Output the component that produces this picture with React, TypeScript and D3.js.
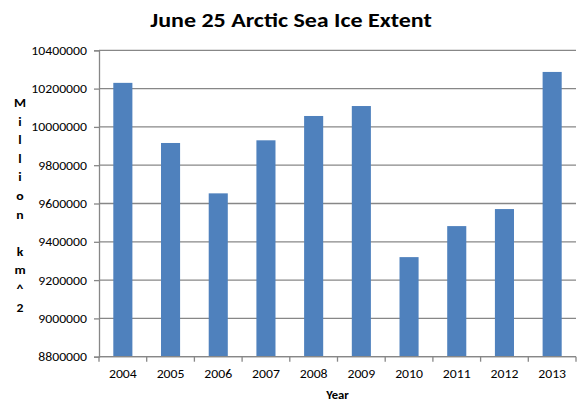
import React, { useEffect, useRef } from 'react';
import * as d3 from 'd3';

// Chart data
const years: string[] = ['2004', '2005', '2006', '2007', '2008', '2009', '2010', '2011', '2012', '2013'];
const extent: number[] = [10230000, 9916000, 9653000, 9930000, 10057000, 10109000, 9320000, 9482000, 9571000, 10287000];
const yTicks: number[] = [8800000, 9000000, 9200000, 9400000, 9600000, 9800000, 10000000, 10200000, 10400000];
const titleText = 'June 25 Arctic Sea Ice Extent';
const yTitle = 'Million km^2';
const xTitle = 'Year';

const App = () => {
  const svgRef = useRef<SVGSVGElement | null>(null);

  useEffect(() => {
    if (!svgRef.current) return;

    d3.select(svgRef.current).selectAll('*').remove();

    const width = 585;
    const height = 413;
    const margin = { top: 50.3, right: 9, bottom: 56.3, left: 99 };
    const font = "Carlito, Calibri, 'Liberation Sans', Arial, sans-serif";
    const gridColor = '#878787';
    // the reference text is a little wider than Carlito, so stretch it
    const stretch = 1.1;

    const svg = d3.select(svgRef.current)
      .attr('width', width)
      .attr('height', height);

    svg.append('rect')
      .attr('width', width)
      .attr('height', height)
      .attr('fill', '#ffffff');

    const xScale = d3.scaleBand<string>()
      .domain(years)
      .range([margin.left, width - margin.right])
      .paddingInner(0.6)
      .paddingOuter(0.3);

    const yScale = d3.scaleLinear()
      .domain([8800000, 10400000])
      .range([height - margin.bottom, margin.top]);

    const x0 = margin.left;
    const x1 = width - margin.right;
    const yBottom = height - margin.bottom;

    // Gridlines
    svg.append('g')
      .selectAll('line')
      .data(yTicks)
      .enter()
      .append('line')
      .attr('x1', x0)
      .attr('x2', x1)
      .attr('y1', d => yScale(d))
      .attr('y2', d => yScale(d))
      .attr('stroke', gridColor)
      .attr('stroke-width', 1.3);

    // Y axis
    const yAxis = d3.axisLeft(yScale)
      .tickValues(yTicks)
      .tickFormat(d => String(d))
      .tickSize(5)
      .tickPadding(7);

    const yAxisG = svg.append('g')
      .attr('transform', `translate(${x0}, 0)`)
      .call(yAxis as any);
    yAxisG.select('.domain').attr('stroke', gridColor).attr('stroke-width', 1.3);
    yAxisG.selectAll('.tick line').attr('stroke', gridColor).attr('stroke-width', 1.3);
    yAxisG.selectAll('.tick text')
      .attr('font-family', font)
      .attr('font-size', '12.5px')
      .attr('fill', '#000')
      .attr('transform', `translate(-12, 0) scale(${stretch}, 1)`)
      .attr('x', 0);

    // Bars
    svg.append('g')
      .selectAll('rect')
      .data(years)
      .enter()
      .append('rect')
      .attr('x', d => xScale(d) as number)
      .attr('width', xScale.bandwidth())
      .attr('y', (d, i) => yScale(extent[i]))
      .attr('height', (d, i) => yBottom - yScale(extent[i]))
      .attr('fill', '#4F81BD');

    // X axis line
    svg.append('line')
      .attr('x1', x0)
      .attr('x2', x1)
      .attr('y1', yBottom)
      .attr('y2', yBottom)
      .attr('stroke', gridColor)
      .attr('stroke-width', 1.3);

    // X ticks at category boundaries
    const boundaries = d3.range(years.length + 1).map(i => x0 + i * (x1 - x0) / years.length);
    svg.append('g')
      .selectAll('line')
      .data(boundaries)
      .enter()
      .append('line')
      .attr('x1', d => d)
      .attr('x2', d => d)
      .attr('y1', yBottom)
      .attr('y2', yBottom + 5)
      .attr('stroke', gridColor)
      .attr('stroke-width', 1.3);

    // X labels
    svg.append('g')
      .selectAll('text')
      .data(years)
      .enter()
      .append('text')
      .attr('transform', d => `translate(${(xScale(d) as number) + xScale.bandwidth() / 2}, ${yBottom + 21}) scale(${stretch}, 1)`)
      .attr('text-anchor', 'middle')
      .attr('font-family', font)
      .attr('font-size', '12.5px')
      .attr('fill', '#000')
      .text(d => d);

    // Title
    svg.append('text')
      .attr('transform', 'translate(291, 27) scale(1.2, 1)')
      .attr('text-anchor', 'middle')
      .attr('font-family', font)
      .attr('font-weight', 'bold')
      .attr('font-size', '20px')
      .attr('fill', '#000')
      .text(titleText);

    // X title
    svg.append('text')
      .attr('transform', `translate(${(x0 + x1) / 2}, 399) scale(${stretch}, 1)`)
      .attr('text-anchor', 'middle')
      .attr('font-family', font)
      .attr('font-weight', 'bold')
      .attr('font-size', '11.5px')
      .attr('fill', '#000')
      .text(xTitle);

    // Y title, stacked characters
    svg.append('g')
      .selectAll('text')
      .data(yTitle.split(''))
      .enter()
      .append('text')
      .attr('transform', (d, i) => `translate(20, ${107 + i * 18.6}) scale(${stretch}, 1)`)
      .attr('text-anchor', 'middle')
      .attr('font-family', font)
      .attr('font-weight', 'bold')
      .attr('font-size', '12.5px')
      .attr('fill', '#000')
      .text(d => d);
  }, []);

  return (
    <div style={{ position: 'absolute', left: 0, top: 0 }}>
      <svg ref={svgRef} style={{ display: 'block' }}></svg>
    </div>
  );
};

export default App;
